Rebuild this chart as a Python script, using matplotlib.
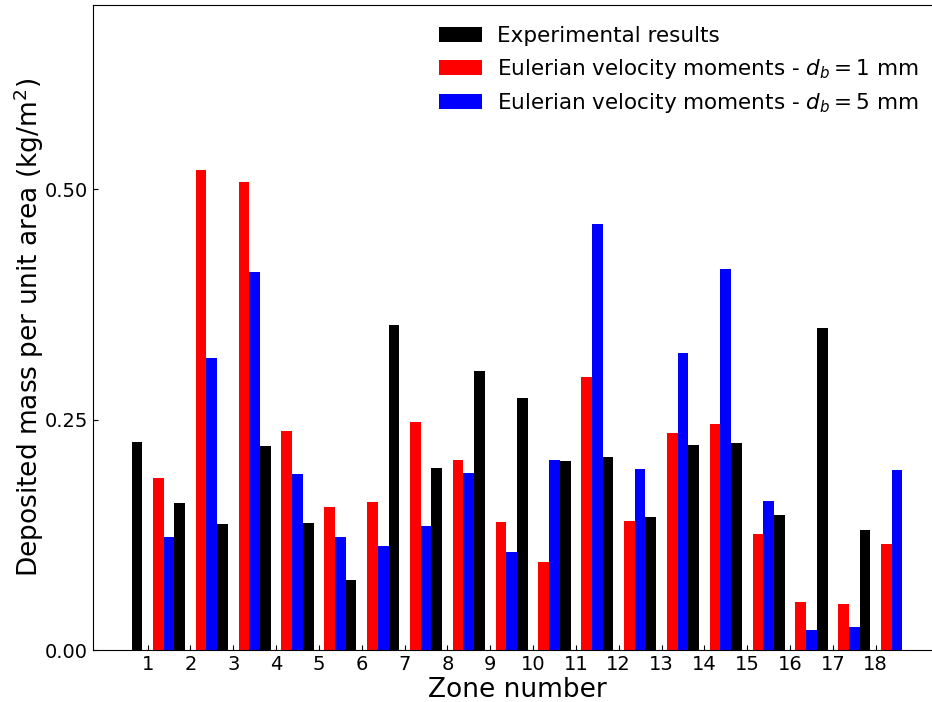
import matplotlib
matplotlib.use("Agg")
import matplotlib.pyplot as plt
import numpy as np


# Deposited mass per zone
zones = list(range(1, 19))

experimental = [0.226, 0.159, 0.137, 0.221, 0.138, 0.076, 0.353, 0.198, 0.303,
                0.273, 0.205, 0.209, 0.144, 0.223, 0.225, 0.147, 0.349, 0.130]
euler_db1 = [0.187, 0.521, 0.508, 0.238, 0.155, 0.161, 0.247, 0.206, 0.139,
             0.095, 0.296, 0.140, 0.235, 0.245, 0.126, 0.052, 0.050, 0.115]
euler_db5 = [0.123, 0.317, 0.410, 0.191, 0.123, 0.113, 0.135, 0.192, 0.106,
             0.206, 0.462, 0.196, 0.322, 0.414, 0.162, 0.022, 0.025, 0.195]

y_ticks = [0.0, 0.25, 0.5]


fig = plt.figure(figsize=(9.32, 7.02), dpi=100)
# axes run a little past the right edge, as in the cropped original
ax = fig.add_axes([93 / 932, 52 / 702, 848 / 932, 645 / 702])

x = np.array(zones)
width = 0.25

ax.bar(x - width, experimental, width, color="black", label="Experimental results")
ax.bar(x + width, euler_db1, width, color="red",
       label="Eulerian velocity moments - $d_b = 1$ mm")
ax.bar(x + 2 * width, euler_db5, width, color="blue",
       label="Eulerian velocity moments - $d_b = 5$ mm")

ax.set_ylim(0, 0.7)
ax.set_xticks(zones)
ax.set_yticks(y_ticks)
ax.set_yticklabels([f"{t:.2f}" for t in y_ticks])
ax.tick_params(direction="in", labelsize=14)

ax.set_xlabel("Zone number", fontsize=19, labelpad=2)
ax.set_ylabel("Deposited mass per unit area (kg/m$^2$)", fontsize=19, labelpad=-1)

ax.legend(loc="upper right", frameon=False, fontsize=15.5,
          bbox_to_anchor=(922 / 941 + 0.004, 0.981), borderaxespad=0.0,
          handletextpad=0.7)

fig.savefig("out.png", dpi=100)
